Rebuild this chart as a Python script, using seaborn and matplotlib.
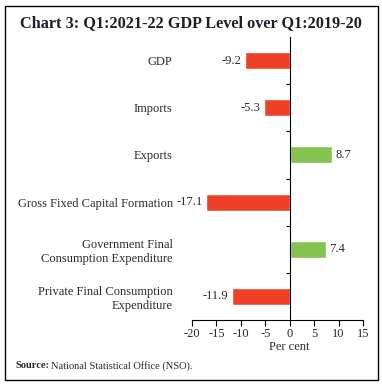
import matplotlib
matplotlib.use('Agg')
import matplotlib.pyplot as plt
import matplotlib.patches as mpatches
import seaborn as sns
import pandas as pd

categories = [
    'GDP',
    'Imports',
    'Exports',
    'Gross Fixed Capital Formation',
    'Government Final\nConsumption Expenditure',
    'Private Final Consumption\nExpenditure',
]
values = [-9.2, -5.3, 8.7, -17.1, 7.4, -11.9]
x_ticks = [-20, -15, -10, -5, 0, 5, 10, 15]

RED = '#ee4027'
GREEN = '#86c24f'
TEXT = '#2a2a2a'
FS = 9

sns.set_theme(style='white')
plt.rcParams['font.family'] = ['Liberation Serif', 'DejaVu Serif']

df = pd.DataFrame({'category': categories, 'value': values})
df['color'] = [RED if v < 0 else GREEN for v in values]

fig = plt.figure(figsize=(3.82, 3.85), dpi=100)
ax = fig.add_axes([192 / 382, 1 - 320 / 385, 171 / 382, 283 / 385])

sns.barplot(data=df, x='value', y='category', hue='category',
            palette=dict(zip(df['category'], df['color'])),
            orient='h', width=0.36, legend=False, ax=ax, saturation=1)

ax.set_xlim(-20, 15)
ax.set_ylim(5.5, -0.5)
ax.set_xticks(x_ticks)
ax.set_xticklabels([str(t) for t in x_ticks])
ax.tick_params(axis='x', length=4, width=0.8, color='black', pad=2, direction='out',
               bottom=True, labelsize=FS, labelcolor=TEXT)

# left spine sits at x=0, so push the category labels out to the left
ax.set_yticks(range(len(categories)))
ax.set_yticklabels(categories, linespacing=0.85)
ax.tick_params(axis='y', length=0, pad=(290 - 173) * 72 / 100,
               labelsize=FS, labelcolor=TEXT)
ax.set_yticks([i + 0.5 for i in range(len(categories) - 1)], minor=True)
ax.tick_params(axis='y', which='minor', length=3, width=0.8, color='black', left=True)

ax.set_xlabel('Per cent', fontsize=FS, color=TEXT)
ax.xaxis.set_label_coords((289 - 192) / 171, -0.075)
ax.set_ylabel('')

for s in ['top', 'right']:
    ax.spines[s].set_visible(False)
ax.spines['left'].set_position(('data', 0))
ax.spines['left'].set_color('black')
ax.spines['left'].set_linewidth(0.8)
ax.spines['bottom'].set_color('black')
ax.spines['bottom'].set_linewidth(0.8)

for i, v in enumerate(values):
    off = 0.6 if v > 0 else -0.6
    ax.text(v + off, i, f'{v:.1f}', va='center',
            ha='left' if v > 0 else 'right', fontsize=FS, color=TEXT)

fig.text(0.5, 1 - 23 / 385, 'Chart 3: Q1:2021-22 GDP Level over Q1:2019-20',
         ha='center', va='center', fontsize=11.7, fontweight='bold', color='#1c1c2a')

src = fig.text(15 / 382, 1 - 366 / 385, 'Source:', ha='left', va='center',
               fontsize=7.5, fontweight='bold', color=TEXT)
fig.canvas.draw()
bb = src.get_window_extent()
fig.text((bb.x1 + 2) / 382, 1 - 366 / 385, 'National Statistical Office (NSO).',
         ha='left', va='center', fontsize=7.5, color=TEXT)

fig.patches.append(mpatches.Rectangle((4.5 / 382, 1 - 380 / 385), 373 / 382, 374 / 385,
                                      transform=fig.transFigure, fill=False,
                                      edgecolor='black', linewidth=1.0))

fig.savefig('out.png', dpi=100)
